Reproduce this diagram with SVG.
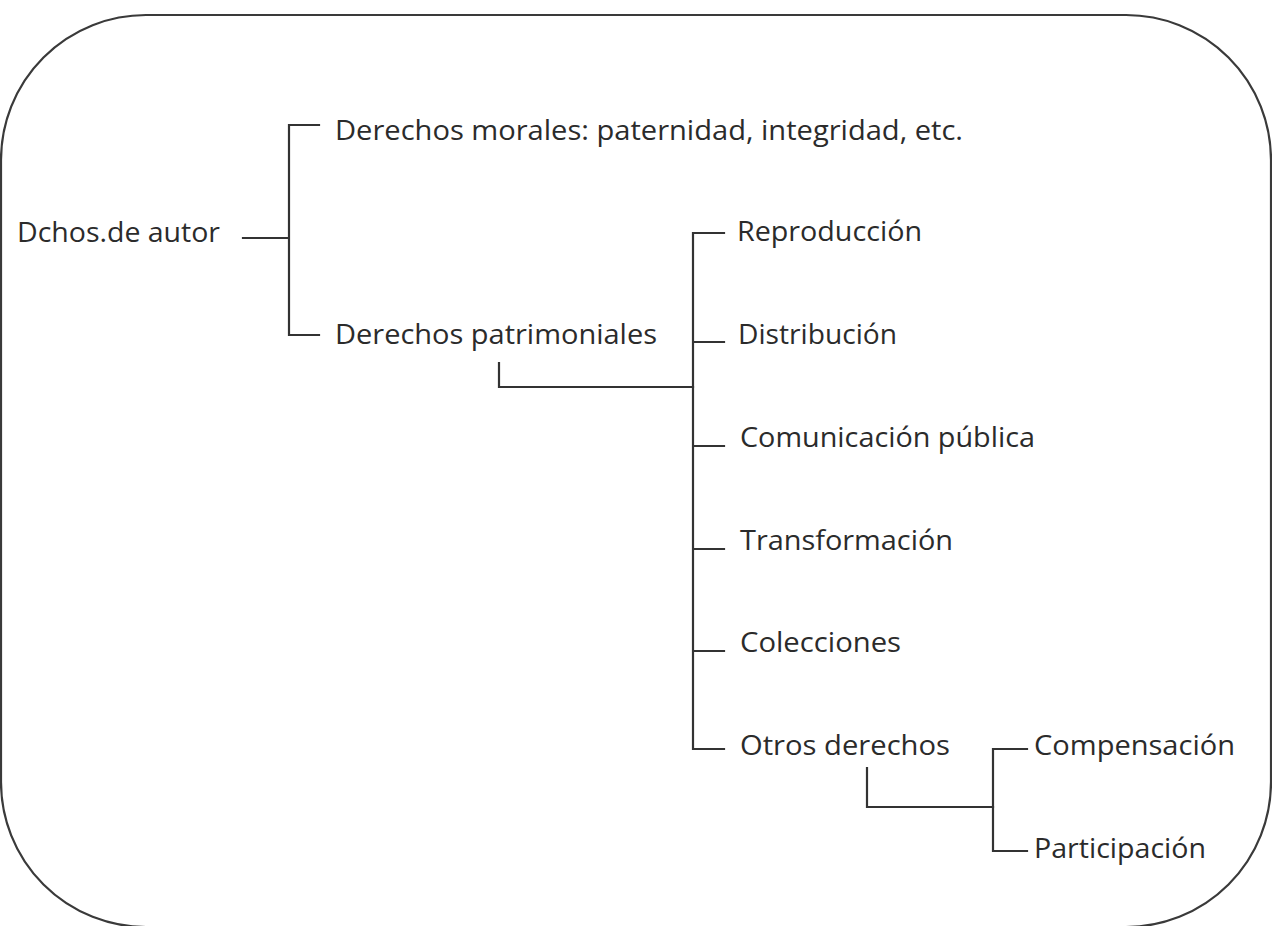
<svg xmlns="http://www.w3.org/2000/svg" width="1272" height="926" viewBox="0 0 1272 926">
<style>
.t{font-family:"Open Sans","Liberation Sans",sans-serif;font-size:28px;fill:#2b2b2b}
.c{fill:none;stroke:#333;stroke-width:2.2;stroke-linecap:square;stroke-linejoin:miter}
</style>
<rect x="0" y="0" width="1272" height="926" fill="#fff"/>
<rect id="frame" x="1" y="15" width="1270" height="912" rx="145" ry="145" fill="none" stroke="#3a3a3a" stroke-width="2.2"/>
<g id="connectors">
<path class="c" d="M243 238H289M319 125H289V335H319"/>
<path class="c" d="M499 363V387H693"/>
<path class="c" d="M724 233H693V749H724M693 342H724M693 446H724M693 549H724M693 651H724"/>
<path class="c" d="M867 768V807H993"/>
<path class="c" d="M1027 749H993V851H1027"/>
</g>
<g id="n-dchos"><text class="t" x="17" y="242" textLength="203" lengthAdjust="spacingAndGlyphs">Dchos.de autor</text></g>
<g id="n-morales"><text class="t" x="335" y="140" textLength="628" lengthAdjust="spacingAndGlyphs">Derechos morales: paternidad, integridad, etc.</text></g>
<g id="n-patrimoniales"><text class="t" x="335" y="344" textLength="322" lengthAdjust="spacingAndGlyphs">Derechos patrimoniales</text></g>
<g id="n-reproduccion"><text class="t" x="737" y="241" textLength="185" lengthAdjust="spacingAndGlyphs">Reproducción</text></g>
<g id="n-distribucion"><text class="t" x="738" y="344" textLength="159" lengthAdjust="spacingAndGlyphs">Distribución</text></g>
<g id="n-comunicacion"><text class="t" x="740" y="447" textLength="295" lengthAdjust="spacingAndGlyphs">Comunicación pública</text></g>
<g id="n-transformacion"><text class="t" x="740" y="550" textLength="213" lengthAdjust="spacingAndGlyphs">Transformación</text></g>
<g id="n-colecciones"><text class="t" x="740" y="652" textLength="161" lengthAdjust="spacingAndGlyphs">Colecciones</text></g>
<g id="n-otros"><text class="t" x="740" y="755" textLength="210" lengthAdjust="spacingAndGlyphs">Otros derechos</text></g>
<g id="n-compensacion"><text class="t" x="1034" y="755" textLength="201" lengthAdjust="spacingAndGlyphs">Compensación</text></g>
<g id="n-participacion"><text class="t" x="1034" y="858" textLength="172" lengthAdjust="spacingAndGlyphs">Participación</text></g>
</svg>
